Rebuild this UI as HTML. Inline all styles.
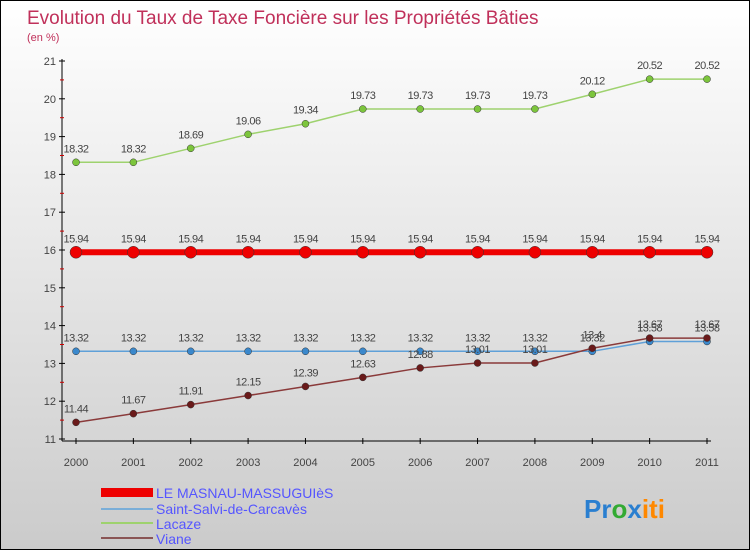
<!DOCTYPE html>
<html><head><meta charset="utf-8"><style>
body{margin:0}
#c{width:750px;height:550px;position:relative;box-sizing:border-box;border:1px solid #000;background:linear-gradient(#fff,#cbcbcb);font-family:"Liberation Sans",sans-serif;overflow:hidden}
</style></head><body>
<div id="c">
<svg width="748" height="548" id="s" style="position:absolute;left:0;top:0">
<text x="26" y="23" font-size="19" fill="#c0305a">Evolution du Taux de Taxe Foncière sur les Propriétés Bâties</text>
<text x="26" y="40" font-size="11" fill="#c0305a">(en %)</text>
<g id="g"></g>
<g>
<rect x="100" y="487" width="52" height="9" fill="#e00"/>
<text x="155" y="497" font-size="14" fill="#55f">LE MASNAU-MASSUGUIèS</text>
<rect x="100" y="507" width="52" height="2" fill="#7aaed8"/>
<text x="155" y="513" font-size="14" fill="#55f">Saint-Salvi-de-Carcavès</text>
<rect x="100" y="521" width="52" height="2" fill="#9ed26e"/>
<text x="155" y="528" font-size="14" fill="#55f">Lacaze</text>
<rect x="100" y="536" width="52" height="2" fill="#8a5555"/>
<text x="155" y="543" font-size="14" fill="#55f">Viane</text>
</g>
<text x="583" y="517" font-size="26" font-weight="bold"><tspan fill="#2a7fd0">Pr</tspan><tspan fill="#3a3">o</tspan><tspan fill="#2a7fd0">x</tspan><tspan fill="#f80">iti</tspan></text>
</svg>
</div>
<script>
const years=[2000,2001,2002,2003,2004,2005,2006,2007,2008,2009,2010,2011];
const yTicks=[11,12,13,14,15,16,17,18,19,20,21];
const masnau=[15.94,15.94,15.94,15.94,15.94,15.94,15.94,15.94,15.94,15.94,15.94,15.94];
const salvi=[13.32,13.32,13.32,13.32,13.32,13.32,13.32,13.32,13.32,13.32,13.58,13.58];
const lacaze=[18.32,18.32,18.69,19.06,19.34,19.73,19.73,19.73,19.73,20.12,20.52,20.52];
const viane=[11.44,11.67,11.91,12.15,12.39,12.63,12.88,13.01,13.01,13.4,13.67,13.67];
const NS="http://www.w3.org/2000/svg",g=document.getElementById('g');
const X=i=>75+i*(706-75)/(years.length-1);
const Y=v=>438-(v-11)*(438-60)/10;
function mk(t,a){const e=document.createElementNS(NS,t);for(const k in a)e.setAttribute(k,a[k]);g.appendChild(e);return e;}
let ax=mk('line',{x1:61,y1:58,x2:61,y2:440,stroke:'#000'});


let bx=mk('line',{x1:61,y1:440,x2:710,y2:440,stroke:'#000'});


yTicks.forEach(v=>{
 mk('line',{x1:58,x2:64,y1:Y(v),y2:Y(v),stroke:'#000'});
 if(v<21)mk('line',{x1:59,x2:63,y1:Y(v+0.5),y2:Y(v+0.5),stroke:'#c00'});
 const t=mk('text',{x:55,y:Y(v)+4,'font-size':11,fill:'#444','text-anchor':'end'});t.textContent=v;
 
 
});
years.forEach((y,i)=>{
 mk('line',{x1:X(i),x2:X(i),y1:437,y2:443,stroke:'#000'});
 const t=mk('text',{x:X(i),y:465,'font-size':11,fill:'#444','text-anchor':'middle'});t.textContent=y;
 
 
});
function series(d,name,col,dot,w,r){
 const p=mk('polyline',{points:d.map((v,i)=>X(i)+','+Y(v)).join(' '),fill:'none',stroke:col,'stroke-width':w});
 
 
 d.forEach((v,i)=>{
  const c=mk('circle',{cx:X(i),cy:Y(v),r:r,fill:dot,stroke:'#333','stroke-width':0.5});
  
  
  const t=mk('text',{x:X(i),y:Y(v)-10,'font-size':11,fill:'#444','text-anchor':'middle','letter-spacing':'-0.5'});t.textContent=v;
  
  
 });
}
series(lacaze,'lacaze','#9ed26e','#7cc53c',1.5,3.5);
series(salvi,'saint-salvi','#5fa0d8','#3a88cc',1.5,3.5);
series(viane,'viane','#8a3a3a','#6a1a1a',1.5,3.5);
series(masnau,'masnau','#e00','#e00',6,6);
</script>
</body></html>
